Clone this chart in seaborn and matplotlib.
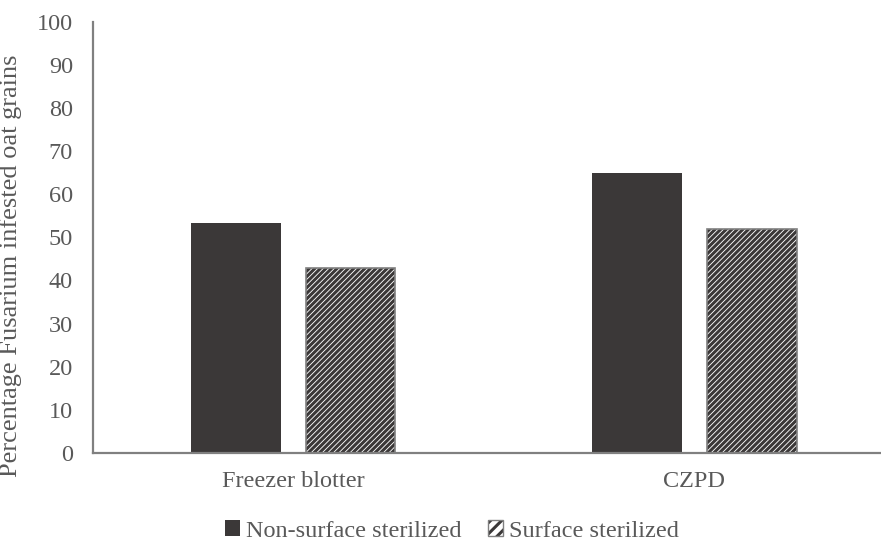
import matplotlib
matplotlib.use("Agg")
import matplotlib.pyplot as plt
from matplotlib.patches import Patch, Rectangle
from matplotlib.legend_handler import HandlerTuple
import pandas as pd
import seaborn as sns

# Data
methods = ["Freezer blotter", "CZPD"]
treatments = ["Non-surface sterilized", "Surface sterilized"]
non_sterilized = [53.3, 65.0]
sterilized = [42.9, 51.9]
y_ticks = [0, 10, 20, 30, 40, 50, 60, 70, 80, 90, 100]

df = pd.DataFrame({
    "method": methods * 2,
    "treatment": [treatments[0]] * len(methods) + [treatments[1]] * len(methods),
    "pct": non_sterilized + sterilized,
})

sns.set_theme(style="white")
plt.rcParams["font.family"] = ["Liberation Serif", "DejaVu Serif"]
plt.rcParams["hatch.linewidth"] = 2.2

DARK = "#3B3838"
GREY = "#808080"
TEXT = "#595959"
HATCH = "//////"

fig = plt.figure(figsize=(8.81, 5.43), dpi=100)
ax = fig.add_axes([0.105, 0.166, 0.895, 0.794])

sns.barplot(
    data=df, x="method", y="pct", hue="treatment",
    hue_order=treatments, order=methods,
    palette=[DARK, "white"], width=0.571, gap=0.216,
    errorbar=None, legend=False, ax=ax, saturation=1,
)

# solid bars: plain dark fill
for bar in ax.containers[0]:
    bar.set_facecolor(DARK)
    bar.set_edgecolor(DARK)
    bar.set_linewidth(0)

# hatched bars: dark diagonal stripes with a thin grey outline
for bar in ax.containers[1]:
    bar.set_facecolor("white")
    bar.set_edgecolor(DARK)
    bar.set_hatch(HATCH)
    bar.set_linewidth(0)
    ax.add_patch(Rectangle(bar.get_xy(), bar.get_width(), bar.get_height(),
                           fill=False, edgecolor=GREY, linewidth=1.2,
                           zorder=bar.get_zorder() + 0.1))

ax.set_ylim(0, 100)
ax.set_xlim(-0.5, 1.465)
ax.set_yticks(y_ticks)
ax.set_yticklabels([str(t) for t in y_ticks])
ax.tick_params(axis="both", length=0, labelsize=17.5, colors=TEXT)
ax.tick_params(axis="y", pad=14)
ax.tick_params(axis="x", pad=13)
ax.set_xlabel("")
ax.set_ylabel("Percentage Fusarium infested oat grains", fontsize=19, color=TEXT)
ax.yaxis.set_label_coords(-0.089, 0.434)

for side in ["top", "right"]:
    ax.spines[side].set_visible(False)
for side in ["left", "bottom"]:
    ax.spines[side].set_color(GREY)
    ax.spines[side].set_linewidth(1.6)

handles = [
    Patch(facecolor=DARK, edgecolor=DARK, linewidth=0),
    (Patch(facecolor="white", edgecolor=DARK, hatch="///", linewidth=0),
     Patch(fill=False, edgecolor=GREY, linewidth=1.0)),
]
fig.legend(
    handles, treatments, loc="center", bbox_to_anchor=(0.513, 0.022),
    ncol=2, frameon=False, fontsize=17.5, labelcolor=TEXT,
    handlelength=0.6, handleheight=0.6, handletextpad=0.25, columnspacing=1.1,
    handler_map={tuple: HandlerTuple(ndivide=1)}, borderpad=0,
)

fig.savefig("out.png", dpi=100)
